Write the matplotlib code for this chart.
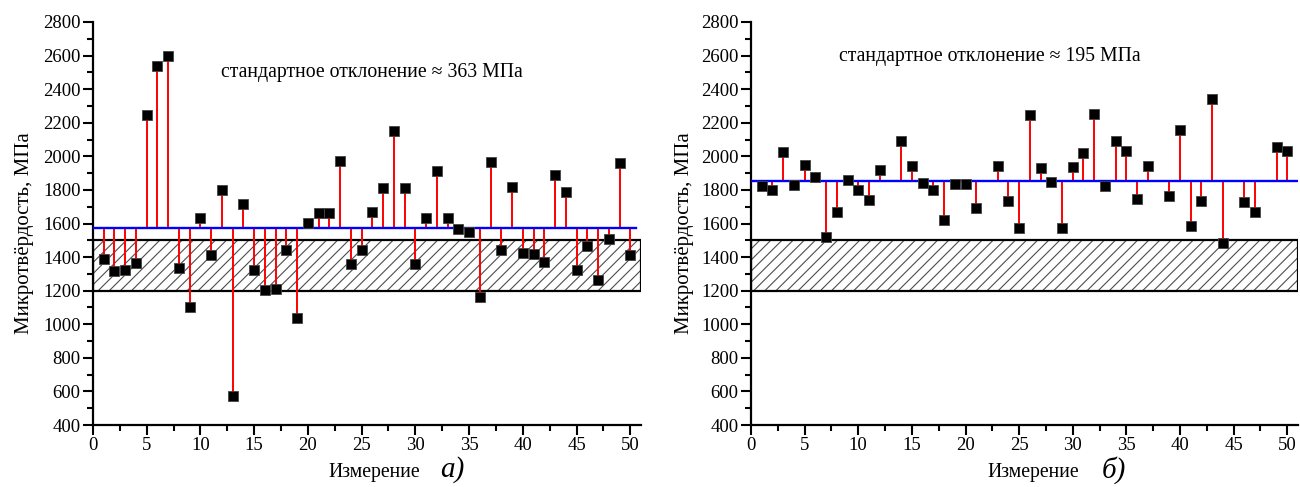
import matplotlib
matplotlib.use("Agg")
import matplotlib.pyplot as plt
from matplotlib.ticker import MultipleLocator

plt.rcParams['font.family'] = ['Liberation Serif', 'DejaVu Serif']
plt.rcParams['hatch.linewidth'] = 0.8

# ---------------- data ----------------
meas_a = list(range(1, 51))
hv_a = [1390, 1320, 1325, 1365, 2245, 2535, 2595, 1335, 1100, 1635,
        1410, 1800, 575, 1715, 1325, 1205, 1210, 1440, 1035, 1605,
        1665, 1660, 1970, 1360, 1445, 1670, 1810, 2150, 1810, 1360,
        1630, 1915, 1635, 1565, 1550, 1160, 1965, 1445, 1820, 1425,
        1420, 1370, 1890, 1790, 1325, 1465, 1265, 1505, 1960, 1410]
mean_a = 1573

meas_b = [1, 2, 3, 4, 5, 6, 7, 8, 9, 10, 11, 12, 14, 15, 16, 17, 18, 19, 20, 21,
          23, 24, 25, 26, 27, 28, 29, 30, 31, 32, 33, 34, 35, 36, 37, 39, 40, 41,
          42, 43, 44, 46, 47, 49, 50]
hv_b = [1826, 1798, 2028, 1830, 1947, 1879, 1518, 1669, 1858, 1798, 1740, 1919,
        2090, 1941, 1840, 1798, 1620, 1834, 1834, 1691,
        1943, 1733, 1572, 2245, 1933, 1848, 1576, 1939, 2020, 2250, 1826, 2092,
        2030, 1748, 1945, 1764, 2157, 1584, 1735, 2340, 1485, 1727, 1669, 2058, 2030]
mean_b = 1855

band_low, band_high = 1200, 1500
std_texts = ["стандартное отклонение ≈ 363 МПа", "стандартное отклонение ≈ 195 МПа"]
panel_labels = ["а)", "б)"]
ylabel = "Микротвёрдость, МПа"
xlabel = "Измерение"

# ---------------- figure ----------------
W, H = 1300, 487
fig = plt.figure(figsize=(W / 100, H / 100), dpi=100)

def fx(px):
    return px / W

def fy(py):
    return 1 - py / H

ax_pos = [(93, 641), (751, 1298)]
top_px, bot_px = 22, 425
mean_line_end = [50.5, 51]
text_pos = [(372, 72), (990, 57)]
xlabel_pos = [374, 1033]
plabel_pos = [452, 1114]
ylabel_pos = [24, 684]

datasets = [(meas_a, hv_a, mean_a), (meas_b, hv_b, mean_b)]

for i, (xs, ys, m) in enumerate(datasets):
    l, r = ax_pos[i]
    ax = fig.add_axes([fx(l), fy(bot_px), fx(r) - fx(l), fy(top_px) - fy(bot_px)])
    ax.set_xlim(0, 51)
    ax.set_ylim(400, 2800)
    for s in ['top', 'right']:
        ax.spines[s].set_visible(False)
    for s in ['left', 'bottom']:
        ax.spines[s].set_linewidth(1.6)
    ax.xaxis.set_major_locator(MultipleLocator(5))
    ax.xaxis.set_minor_locator(MultipleLocator(2.5))
    ax.yaxis.set_major_locator(MultipleLocator(200))
    ax.yaxis.set_minor_locator(MultipleLocator(100))
    ax.tick_params(which='major', direction='out', length=7, width=1.5, labelsize=13.5, pad=2)
    ax.tick_params(which='minor', direction='out', length=4, width=1.5)

    # hatched band
    ax.axhspan(band_low, band_high, xmin=0, xmax=1, facecolor='none',
               edgecolor='0.3', hatch='///', linewidth=0, zorder=1)
    ax.axhspan(band_low, band_high, xmin=0, xmax=1, fill=False,
               edgecolor='black', linewidth=1.6, zorder=2)

    # mean line and stems
    ax.vlines(xs, [m] * len(xs), ys, colors='#ff0000', linewidth=1.4, zorder=3)
    ax.plot([0, mean_line_end[i]], [m, m], color='#0000ff', linewidth=1.7, zorder=4)
    ax.plot(xs, ys, linestyle='none', marker='s', markersize=7,
            markerfacecolor='black', markeredgecolor='#444444', markeredgewidth=0.6,
            zorder=5, clip_on=False)

    tx, ty = text_pos[i]
    fig.text(fx(tx), fy(ty), std_texts[i], ha='center', va='center', fontsize=14.2)
    fig.text(fx(xlabel_pos[i]), fy(472), xlabel, ha='center', va='center', fontsize=14.2)
    fig.text(fx(plabel_pos[i]), fy(470), panel_labels[i], ha='center', va='center',
             fontsize=21, style='italic')
    fig.text(fx(ylabel_pos[i]), fy(233), ylabel, ha='center', va='center',
             rotation=90, fontsize=15)

fig.savefig("out.png", dpi=100)
